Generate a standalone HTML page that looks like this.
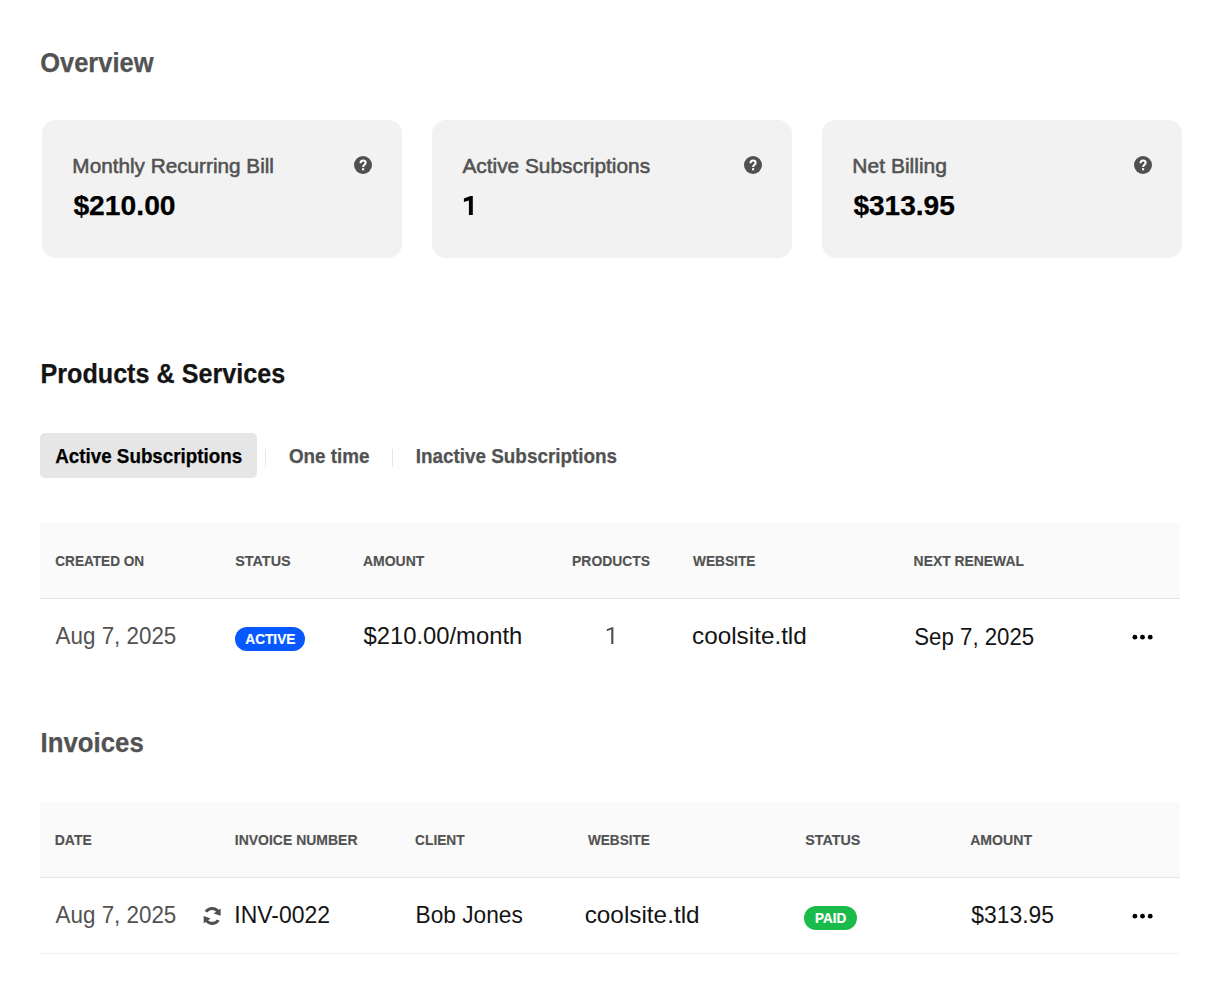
<!DOCTYPE html>
<html><head><meta charset="utf-8"><title>Billing</title>
<style>
html,body{margin:0;padding:0;background:#fff;}
body{width:1220px;height:994px;position:relative;overflow:hidden;font-family:"Liberation Sans",sans-serif;}
.t{position:absolute;white-space:nowrap;line-height:1;transform-origin:0 0;font-family:"Liberation Sans",sans-serif;}
.b{position:absolute;}
</style></head><body>
<div class="b" style="left:42px;top:120px;width:360px;height:138px;border-radius:14px;background:#f2f2f2"></div>
<div class="b" style="left:432px;top:120px;width:360px;height:138px;border-radius:14px;background:#f2f2f2"></div>
<div class="b" style="left:822px;top:120px;width:360px;height:138px;border-radius:14px;background:#f2f2f2"></div>
<svg class="b" style="left:354px;top:156px" width="18" height="18" viewBox="0 0 18 18"><circle cx="9" cy="9" r="9" fill="#505050"/><path d="M6.5 7.3C6.5 5.5 7.5 4.6 9.1 4.6C10.6 4.6 11.6 5.5 11.6 6.9C11.6 8.7 9.1 8.9 9.1 11" fill="none" stroke="#fff" stroke-width="2"/><rect x="8.05" y="12.2" width="2.1" height="2.1" fill="#fff"/></svg>
<svg class="b" style="left:744px;top:156px" width="18" height="18" viewBox="0 0 18 18"><circle cx="9" cy="9" r="9" fill="#505050"/><path d="M6.5 7.3C6.5 5.5 7.5 4.6 9.1 4.6C10.6 4.6 11.6 5.5 11.6 6.9C11.6 8.7 9.1 8.9 9.1 11" fill="none" stroke="#fff" stroke-width="2"/><rect x="8.05" y="12.2" width="2.1" height="2.1" fill="#fff"/></svg>
<svg class="b" style="left:1134px;top:156px" width="18" height="18" viewBox="0 0 18 18"><circle cx="9" cy="9" r="9" fill="#505050"/><path d="M6.5 7.3C6.5 5.5 7.5 4.6 9.1 4.6C10.6 4.6 11.6 5.5 11.6 6.9C11.6 8.7 9.1 8.9 9.1 11" fill="none" stroke="#fff" stroke-width="2"/><rect x="8.05" y="12.2" width="2.1" height="2.1" fill="#fff"/></svg>
<div class="b" style="left:40px;top:433px;width:217px;height:45px;border-radius:5px;background:#e6e6e6"></div>
<div class="b" style="left:265px;top:449px;width:1px;height:18px;background:#e6e6e6"></div>
<div class="b" style="left:392px;top:449px;width:1px;height:18px;background:#e6e6e6"></div>
<div class="b" style="left:40px;top:523px;width:1140px;height:75px;background:#fafafa;border-bottom:1px solid #e5e5e5"></div>
<div class="b" style="left:235px;top:627px;width:70px;height:24px;border-radius:12px;background:#0559ff"></div>
<svg class="b" style="left:1130px;top:632px" width="26" height="10" viewBox="0 0 26 10"><circle cx="4.9" cy="5.2" r="2.4"/><circle cx="12.5" cy="5.2" r="2.4"/><circle cx="20.2" cy="5.2" r="2.4"/></svg>
<div class="b" style="left:40px;top:802px;width:1140px;height:75px;background:#fafafa;border-bottom:1px solid #e5e5e5"></div>
<div class="b" style="left:804px;top:906px;width:53px;height:24px;border-radius:12px;background:#1abb4b"></div>
<svg class="b" style="left:1130px;top:911px" width="26" height="10" viewBox="0 0 26 10"><circle cx="4.9" cy="5.2" r="2.4"/><circle cx="12.5" cy="5.2" r="2.4"/><circle cx="20.2" cy="5.2" r="2.4"/></svg>
<div class="b" style="left:40px;top:953px;width:1140px;height:1px;background:#f2f2f2"></div>
<svg class="b" style="left:200px;top:903px" width="24" height="26" viewBox="0 0 24 26"><g fill="#505050"><path d="M4.61 8.04A9 9 0 0 1 18.74 6.80L20.65 5.75L20.65 12.8L13.6 10.46L16.25 8.69A5.9 5.9 0 0 0 7.39 9.47Z"/><path transform="rotate(180 12.16 12.94)" d="M4.61 8.04A9 9 0 0 1 18.74 6.80L20.65 5.75L20.65 12.8L13.6 10.46L16.25 8.69A5.9 5.9 0 0 0 7.39 9.47Z"/></g></svg>
<svg class="b" style="left:460px;top:190px" width="20" height="30" viewBox="460 190 20 30"><path d="M472.8 196L472.8 215L468.9 215L468.9 200.5L463.9 202L463.9 198.5L470.4 196Z" fill="#000"/></svg>
<svg class="b" style="left:600px;top:620px" width="20" height="30" viewBox="600 620 20 30"><path d="M613.4 627.2L613.4 644L611.2 644L611.2 629.6L606.8 631.2L606.8 629.2L612 627.2Z" fill="#525252"/></svg>

<span class="t" style="left:40px;top:49px;font-size:27.2px;font-weight:bold;color:#525252;transform:translateX(0.16px) scaleX(0.9374);-webkit-text-stroke:0.25px #525252;">Overview</span>
<span class="t" style="left:72px;top:156px;font-size:20px;font-weight:normal;color:#525252;transform:translateX(0.36px) scaleX(1.0364);-webkit-text-stroke:0.55px #525252;">Monthly Recurring Bill</span>
<span class="t" style="left:73px;top:192px;font-size:27.2px;font-weight:bold;color:#000;transform:translateX(0.40px) scaleX(1.0396);-webkit-text-stroke:0.25px #000;">$210.00</span>
<span class="t" style="left:462px;top:156px;font-size:20px;font-weight:normal;color:#525252;transform:translateX(0.40px) scaleX(1.0423);-webkit-text-stroke:0.55px #525252;">Active Subscriptions</span>
<span class="t" style="left:852px;top:156px;font-size:20px;font-weight:normal;color:#525252;transform:translateX(0.35px) scaleX(1.0510);-webkit-text-stroke:0.55px #525252;">Net Billing</span>
<span class="t" style="left:853px;top:192px;font-size:27.2px;font-weight:bold;color:#000;transform:translateX(0.40px) scaleX(1.0320);-webkit-text-stroke:0.25px #000;">$313.95</span>
<span class="t" style="left:40px;top:360px;font-size:27.2px;font-weight:bold;color:#141414;transform:translateX(0.47px) scaleX(0.9252);-webkit-text-stroke:0.25px #141414;">Products &amp; Services</span>
<span class="t" style="left:55px;top:446px;font-size:20.2px;font-weight:bold;color:#000;transform:translateX(0.20px) scaleX(0.9313);-webkit-text-stroke:0.25px #000;">Active Subscriptions</span>
<span class="t" style="left:288px;top:446px;font-size:20.2px;font-weight:bold;color:#525252;transform:translateX(0.90px) scaleX(0.9332);-webkit-text-stroke:0.25px #525252;">One time</span>
<span class="t" style="left:415px;top:446px;font-size:20.2px;font-weight:bold;color:#525252;transform:translateX(0.66px) scaleX(0.9353);-webkit-text-stroke:0.25px #525252;">Inactive Subscriptions</span>
<span class="t" style="left:55px;top:553px;font-size:15.5px;font-weight:bold;color:#525252;transform:translateX(0.30px) scaleX(0.8771);-webkit-text-stroke:0.15px #525252;">CREATED ON</span>
<span class="t" style="left:235px;top:553px;font-size:15.5px;font-weight:bold;color:#525252;transform:translateX(0.20px) scaleX(0.9282);-webkit-text-stroke:0.15px #525252;">STATUS</span>
<span class="t" style="left:362px;top:553px;font-size:15.5px;font-weight:bold;color:#525252;transform:translateX(0.90px) scaleX(0.9045);-webkit-text-stroke:0.15px #525252;">AMOUNT</span>
<span class="t" style="left:572px;top:553px;font-size:15.5px;font-weight:bold;color:#525252;transform:translateX(0.10px) scaleX(0.8956);-webkit-text-stroke:0.15px #525252;">PRODUCTS</span>
<span class="t" style="left:693px;top:553px;font-size:15.5px;font-weight:bold;color:#525252;transform:translateX(0.00px) scaleX(0.8837);-webkit-text-stroke:0.15px #525252;">WEBSITE</span>
<span class="t" style="left:913px;top:553px;font-size:15.5px;font-weight:bold;color:#525252;transform:translateX(0.60px) scaleX(0.8958);-webkit-text-stroke:0.15px #525252;">NEXT RENEWAL</span>
<span class="t" style="left:55px;top:624px;font-size:24px;font-weight:normal;color:#525252;transform:translateX(0.60px) scaleX(0.9326);">Aug 7, 2025</span>
<span class="t" style="left:245px;top:632px;font-size:14.2px;font-weight:bold;color:#fff;transform:translateX(0.30px) scaleX(0.9619);-webkit-text-stroke:0.2px #fff;">ACTIVE</span>
<span class="t" style="left:363px;top:624px;font-size:24px;font-weight:normal;color:#141414;transform:translateX(0.50px) scaleX(0.9913);">$210.00/month</span>
<span class="t" style="left:692px;top:624px;font-size:24px;font-weight:normal;color:#141414;transform:translateX(0.09px) scaleX(1.0113);">coolsite.tld</span>
<span class="t" style="left:914px;top:625px;font-size:24px;font-weight:normal;color:#141414;transform:translateX(0.27px) scaleX(0.9266);">Sep 7, 2025</span>
<span class="t" style="left:40px;top:729px;font-size:27.2px;font-weight:bold;color:#525252;transform:translateX(0.55px) scaleX(0.9486);-webkit-text-stroke:0.25px #525252;">Invoices</span>
<span class="t" style="left:54px;top:832px;font-size:15.5px;font-weight:bold;color:#525252;transform:translateX(0.80px) scaleX(0.8991);-webkit-text-stroke:0.15px #525252;">DATE</span>
<span class="t" style="left:234px;top:832px;font-size:15.5px;font-weight:bold;color:#525252;transform:translateX(0.80px) scaleX(0.9016);-webkit-text-stroke:0.15px #525252;">INVOICE NUMBER</span>
<span class="t" style="left:415px;top:832px;font-size:15.5px;font-weight:bold;color:#525252;transform:translateX(0.10px) scaleX(0.8850);-webkit-text-stroke:0.15px #525252;">CLIENT</span>
<span class="t" style="left:587px;top:832px;font-size:15.5px;font-weight:bold;color:#525252;transform:translateX(0.90px) scaleX(0.8780);-webkit-text-stroke:0.15px #525252;">WEBSITE</span>
<span class="t" style="left:805px;top:832px;font-size:15.5px;font-weight:bold;color:#525252;transform:translateX(0.20px) scaleX(0.9232);-webkit-text-stroke:0.15px #525252;">STATUS</span>
<span class="t" style="left:970px;top:832px;font-size:15.5px;font-weight:bold;color:#525252;transform:translateX(0.20px) scaleX(0.9088);-webkit-text-stroke:0.15px #525252;">AMOUNT</span>
<span class="t" style="left:55px;top:903px;font-size:24px;font-weight:normal;color:#525252;transform:translateX(0.60px) scaleX(0.9326);">Aug 7, 2025</span>
<span class="t" style="left:234px;top:903px;font-size:24px;font-weight:normal;color:#141414;transform:translateX(0.29px) scaleX(0.9568);">INV-0022</span>
<span class="t" style="left:415px;top:903px;font-size:24px;font-weight:normal;color:#141414;transform:translateX(0.55px) scaleX(0.9456);">Bob Jones</span>
<span class="t" style="left:584px;top:903px;font-size:24px;font-weight:normal;color:#141414;transform:translateX(0.69px) scaleX(1.0131);">coolsite.tld</span>
<span class="t" style="left:814px;top:911px;font-size:14.2px;font-weight:bold;color:#fff;transform:translateX(0.90px) scaleX(0.9510);-webkit-text-stroke:0.2px #fff;">PAID</span>
<span class="t" style="left:971px;top:903px;font-size:24px;font-weight:normal;color:#141414;transform:translateX(0.30px) scaleX(0.9536);">$313.95</span>
</body></html>
